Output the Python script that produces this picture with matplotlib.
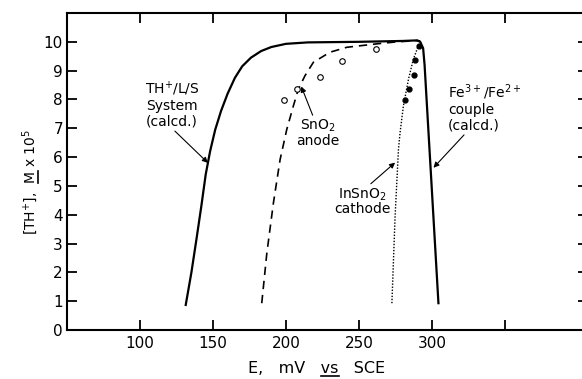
import matplotlib
matplotlib.use("Agg")
import matplotlib.pyplot as plt
from matplotlib.lines import Line2D

plt.rcParams["font.family"] = ["DejaVu Sans"]
plt.rcParams["mathtext.default"] = "regular"

# TH+/L/S system (calcd.) - solid line
calc_E = [131.3, 135.2, 138.8, 142.0, 145.0, 148.0, 151.5, 155.5, 160.0, 165.0,
          170.0, 176.0, 183.0, 190.0, 200.0, 215.0, 250.0, 280.0, 290.0,
          292.0, 294.0, 295.0, 299.6, 304.5]
calc_c = [0.87, 2.00, 3.20, 4.30, 5.40, 6.20, 6.95, 7.60, 8.20, 8.75,
          9.15, 9.45, 9.68, 9.82, 9.93, 9.98, 10.00, 10.03, 10.05,
          10.00, 9.78, 9.20, 5.20, 0.93]

# SnO2 anode - dashed line
anode_E = [183.4, 186.9, 191.4, 196.0, 200.6, 205.1, 208.5, 213.1, 218.8, 230.2,
           241.7, 262.3, 276.0, 289.7, 292.0]
anode_c = [0.93, 2.67, 4.41, 5.92, 6.97, 7.78, 8.36, 8.83, 9.29, 9.64,
           9.81, 9.93, 10.00, 10.04, 10.03]

# InSnO2 cathode - dotted line
cathode_E = [272.6, 274.8, 277.1, 278.2, 280.5, 284.0, 287.4, 290.8, 293.1]
cathode_c = [0.93, 3.95, 6.27, 6.85, 7.78, 8.71, 9.41, 9.87, 9.99]

# measured points
anode_pts_E = [198.8, 207.4, 223.4, 238.7, 261.8]
anode_pts_c = [7.99, 8.36, 8.79, 9.35, 9.76]
cathode_pts_E = [281.7, 284.6, 288.0, 288.5, 291.5]
cathode_pts_c = [7.98, 8.36, 8.85, 9.38, 9.87]

xticks = [100, 150, 200, 250, 300, 350]
xtick_labels = ["100", "150", "200", "250", "300", ""]
yticks = list(range(0, 11))

fig = plt.figure(figsize=(5.82, 3.79), dpi=100)
ax = fig.add_axes([0.1153, 0.1293, 0.8950, 0.8364])

ax.plot(calc_E, calc_c, color="black", lw=1.6, solid_joinstyle="round")
ax.plot(anode_E, anode_c, color="black", lw=1.2, dashes=(5, 3.5))
ax.plot(cathode_E, cathode_c, color="black", lw=1.0, linestyle=(0, (1, 1.2)))
ax.plot(anode_pts_E, anode_pts_c, "o", ms=4, mfc="white", mec="black", mew=0.8)
ax.plot(cathode_pts_E, cathode_pts_c, "o", ms=3.5, color="black")

ax.set_xlim(50, 407)
ax.set_ylim(0, 11)
ax.set_xticks(xticks)
ax.set_xticklabels(xtick_labels)
ax.set_yticks(yticks)

for s in ax.spines.values():
    s.set_linewidth(1.5)
ax.tick_params(direction="in", length=7, width=1.3, top=True, right=True,
               labelsize=11, pad=4)
ax.tick_params(axis="y", pad=3)

arrow = dict(arrowstyle="-|>", color="black", lw=0.8, mutation_scale=8,
             shrinkA=0, shrinkB=0)
ax.annotate("TH$^{+}$/L/S\nSystem\n(calcd.)", xy=(146.5, 5.8), xytext=(121.9, 7.84),
            ha="center", va="center", fontsize=10, linespacing=1.1,
            arrowprops=dict(arrow, relpos=(0.5, 0.0)))
ax.annotate("SnO$_2$\nanode", xy=(210.5, 8.45), xytext=(222.0, 6.83),
            ha="center", va="center", fontsize=10, linespacing=1.0,
            arrowprops=dict(arrow, relpos=(0.4, 1.0)))
ax.annotate("Fe$^{3+}$/Fe$^{2+}$\ncouple\n(calcd.)", xy=(301.1, 5.63), xytext=(311.2, 7.73),
            ha="left", va="center", fontsize=10, linespacing=1.1,
            arrowprops=dict(arrow, relpos=(0.25, 0.0)))
ax.annotate("InSnO$_2$\ncathode", xy=(274.8, 5.81), xytext=(252.1, 4.46),
            ha="center", va="center", fontsize=10, linespacing=0.95,
            arrowprops=dict(arrow, relpos=(0.6, 1.0)))

# axis labels as figure text, with hand-drawn underlines (mathtext has none)
renderer = fig.canvas.get_renderer()


def text_width(s, size):
    t = fig.text(0, 0, s, fontsize=size)
    w = t.get_window_extent(renderer).width
    t.remove()
    return w


def px(x, y):
    # pixel position (from top-left) -> inches for dpi_scale_trans
    return x / 100.0, (379 - y) / 100.0


xl_pre, xl_word, xl_post, xl_size = "E,   mV   ", "vs", "   SCE", 11.5
xl_cx, xl_base = 317, 373
fig.text(*px(xl_cx, xl_base), xl_pre + xl_word + xl_post, fontsize=xl_size,
         ha="center", va="baseline", transform=fig.dpi_scale_trans)
W = text_width(xl_pre + xl_word + xl_post, xl_size)
w = text_width(xl_word, xl_size)
start = xl_cx - W / 2 + text_width(xl_pre + xl_word, xl_size) - w
fig.add_artist(Line2D([start / 100, (start + w) / 100],
                     [(379 - xl_base - 2.5) / 100] * 2, lw=1.2, color="black",
                     transform=fig.dpi_scale_trans))

yl_pre, yl_word, yl_post, yl_size = "[TH$^{+}$],  ", "M", " x 10$^{5}$", 10
yl_base, yl_cy = 35, 182
fig.text(*px(yl_base, yl_cy), yl_pre + yl_word + yl_post, fontsize=yl_size,
         ha="center", va="baseline", rotation=90, rotation_mode="anchor",
         transform=fig.dpi_scale_trans)
W = text_width(yl_pre + yl_word + yl_post, yl_size)
w = text_width(yl_word, yl_size)
start = yl_cy + W / 2 - (text_width(yl_pre + yl_word, yl_size) - w)
fig.add_artist(Line2D([(yl_base + 2.5) / 100] * 2,
                     [(379 - start) / 100, (379 - start + w) / 100], lw=1.2,
                     color="black", transform=fig.dpi_scale_trans))

fig.savefig("out.png", dpi=100)
